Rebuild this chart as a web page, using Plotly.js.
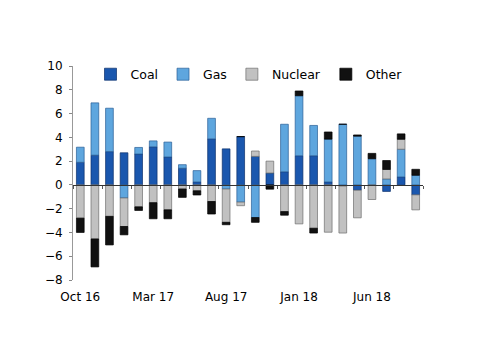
<!DOCTYPE html>
<html>
<head>
<meta charset="utf-8">
<script src="https://cdn.plot.ly/plotly-3.0.1.min.js"></script>
<style>html,body{margin:0;padding:0;background:#fff;}#chart{width:500px;height:354px;}</style>
</head>
<body>
<div id="chart"></div>
<script>
var months = ["Oct 16","Nov 16","Dec 16","Jan 17","Feb 17","Mar 17","Apr 17","May 17","Jun 17","Jul 17","Aug 17","Sep 17","Oct 17","Nov 17","Dec 17","Jan 18","Feb 18","Mar 18","Apr 18","May 18","Jun 18","Jul 18","Aug 18","Sep 18"];
var tickLabels = ["Oct 16","Mar 17","Aug 17","Jan 18","Jun 18"];
var coal    = [1.9, 2.5, 2.8, 2.7, 2.6, 3.2, 2.35, 1.4, 0.25, 3.87, 3.03, 4.06, 2.4, 1.0, 1.1, 2.45, 2.45, 0.25, -0.1, -0.45, 0, -0.55, 0.67, -0.84];
var gas     = [1.27, 4.4, 3.65, -1.1, 0.55, 0.5, 1.25, 0.3, 0.95, 1.73, -0.35, -1.45, -2.75, 0, 4.0, 5.05, 2.55, 3.6, 5.1, 4.1, 2.2, 0.5, 2.33, 0.81];
var nuclear = [-2.8, -4.55, -2.65, -2.4, -1.85, -1.5, -2.1, -0.35, -0.5, -1.4, -2.8, -0.3, 0.45, 1.0, -2.25, -3.28, -3.65, -3.98, -3.95, -2.32, -1.23, 0.8, 0.84, -1.26];
var other   = [-1.2, -2.35, -2.4, -0.7, -0.3, -1.35, -0.75, -0.7, -0.35, -1.05, -0.2, 0, -0.4, -0.36, -0.3, 0.4, -0.4, 0.6, 0, 0.1, 0.45, 0.75, 0.45, 0.5];

function bar(name, y, color, edge) {
  return {type: "bar", name: name, x: months, y: y,
          marker: {color: color, line: {color: edge, width: 0.7}},
          hoverinfo: "x+y+name"};
}
var data = [
  bar("Coal", coal, "#1a57ae", "#0b2f6a"),
  bar("Gas", gas, "#5ea6de", "#2a5f97"),
  bar("Nuclear", nuclear, "#c1c1c1", "#6e6e6e"),
  bar("Other", other, "#111111", "#000000"),
  {type: "scatter", mode: "markers", x: months, y: months.map(function(){return null;}),
   xaxis: "x2", yaxis: "y", showlegend: false, hoverinfo: "skip"}
];
var font = "DejaVu Sans, Verdana, sans-serif";
var layout = {
  width: 500, height: 354,
  margin: {l: 73, r: 77, t: 66, b: 74},
  paper_bgcolor: "#ffffff", plot_bgcolor: "#ffffff",
  barmode: "relative", bargap: 0.47,
  font: {family: font, size: 12, color: "#000"},
  showlegend: true,
  legend: {orientation: "h", x: 0.05, y: 1.03, xanchor: "left", yanchor: "top",
           font: {family: font, size: 12.5, color: "#000"}, bgcolor: "rgba(0,0,0,0)",
           traceorder: "normal"},
  xaxis: {type: "category", categoryorder: "array", categoryarray: months,
          range: [-0.5, 23.5], tickvals: tickLabels, ticktext: tickLabels,
          ticks: "", showline: false, showgrid: false, zeroline: false,
          ticklabelstandoff: 8, tickfont: {family: font, size: 12}},
  xaxis2: {type: "category", categoryorder: "array", categoryarray: months,
           overlaying: "x", anchor: "free", position: 8/18, side: "bottom",
           range: [-0.5, 23.5], tickson: "boundaries", ticks: "outside", ticklen: 3,
           tickcolor: "#555", showline: true, linecolor: "#333", linewidth: 1,
           showticklabels: false, showgrid: false, zeroline: false},
  yaxis: {range: [-8, 10], dtick: 2, tick0: 0, ticks: "outside", ticklen: 3,
          tickcolor: "#888", showline: true, linecolor: "#999", linewidth: 1,
          showgrid: false, zeroline: false, ticklabelstandoff: 4,
          tickfont: {family: font, size: 12}}
};
Plotly.newPlot("chart", data, layout, {displayModeBar: false, staticPlot: true});
</script>
</body>
</html>
